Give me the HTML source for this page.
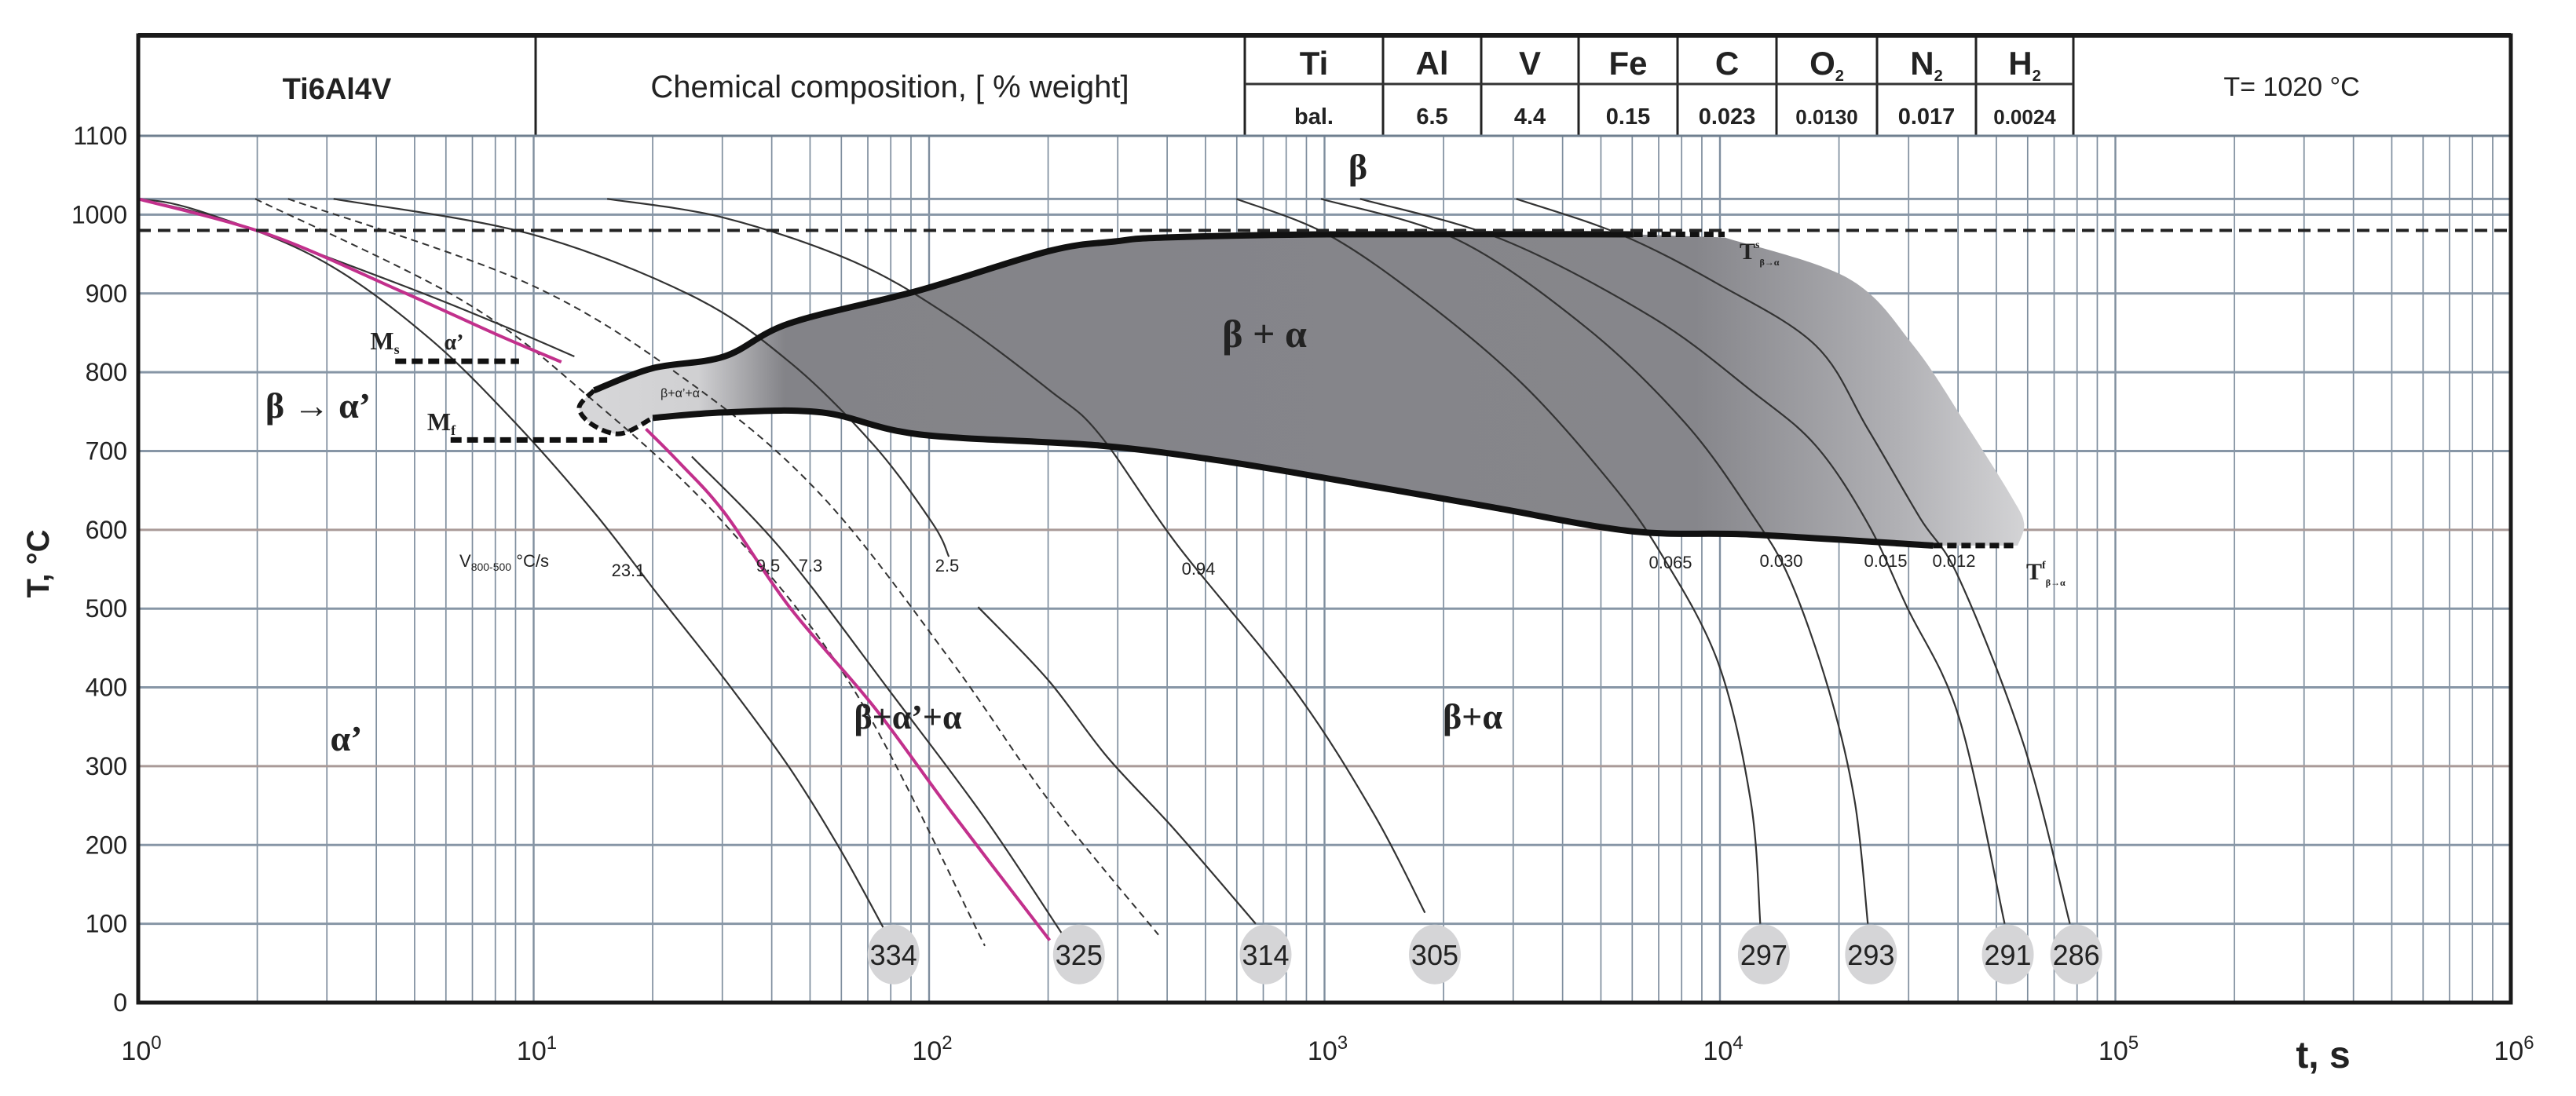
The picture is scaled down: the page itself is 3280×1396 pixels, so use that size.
<!DOCTYPE html>
<html><head><meta charset="utf-8"><style>
html,body{margin:0;padding:0;background:#fff}
svg{display:block}
text{font-family:"Liberation Sans",sans-serif;fill:#222}
.serif{font-family:"Liberation Serif",serif;font-weight:bold}
</style></head><body>
<svg id="chart" xmlns="http://www.w3.org/2000/svg" width="3280" height="1396" viewBox="0 0 3280 1396">
<defs>
<linearGradient id="regionGrad" gradientUnits="userSpaceOnUse" x1="760" y1="0" x2="2600" y2="0">
<stop offset="0" stop-color="#d6d6d8"/>
<stop offset="0.07" stop-color="#d0d0d2"/>
<stop offset="0.13" stop-color="#838388"/>
<stop offset="0.76" stop-color="#86868b"/>
<stop offset="0.90" stop-color="#b0b0b4"/>
<stop offset="1" stop-color="#d8d8da"/>
</linearGradient>
</defs>
<g id="grid"></g>
<g id="region"></g>
<g id="curves"></g>
<g id="labels"></g>
<g id="header"></g>
</svg>
<script>
// ---- data (log10 t [s], T [°C]) ----
const yTicks = [0,100,200,300,400,500,600,700,800,900,1000,1100];
const xDecades = [0,1,2,3,4,5,6];
const c334Lt = [0,0.247,0.494,0.741,0.955,1.153,1.317,1.482,1.647,1.778,1.894];
const c334T  = [1020,989,933,841,735,622,516,411,298,192,86];
const pinkALt = [0,0.329,0.659,0.906,1.070];
const pinkAT  = [1020,975,904,848,813];
const pinkBLt = [1.284,1.367,1.482,1.647,1.861,2.058,2.305];
const pinkBT  = [728,686,622,502,375,241,79];
const c73ALt = [0,0.165,0.659,0.922,1.103];
const c73AT  = [1020,1003,912,859,820];
const c73BLt = [1.400,1.630,1.910,2.141,2.338];
const c73BT  = [693,573,389,234,86];
const dashALt = [0.296,0.823,1.153,1.482,1.811,2.141];
const dashAT  = [1020,890,763,608,396,72];
const dashBLt = [0.379,0.988,1.400,1.729,2.058,2.305,2.58];
const dashBT  = [1020,912,785,643,432,255,86];
const c25ALt = [0.494,0.988,1.400,1.647,1.861,2.009,2.050];
const c25AT  = [1020,976,897,813,707,608,566];
const c25BLt = [2.124,2.30,2.45,2.62,2.826];
const c25BT  = [502,410,312,220,100];
const c094Lt = [1.186,1.482,1.811,2.058,2.305,2.431,2.629,2.925,3.123,3.254];
const c094T  = [1020,996,940,869,777,721,580,396,241,114];
const c065Lt = [2.777,3.007,3.254,3.501,3.715,3.847,3.995,4.078,4.102];
const c065T  = [1020,975,890,785,665,573,432,255,100];
const c030Lt = [2.991,3.337,3.666,3.913,4.078,4.176,4.275,4.341,4.374];
const c030T  = [1020,968,855,735,622,538,397,255,100];
const c015Lt = [3.090,3.452,3.831,4.078,4.242,4.374,4.473,4.605,4.720];
const c015T  = [1020,968,869,777,707,608,502,361,100];
const c012Lt = [3.485,3.748,3.995,4.242,4.374,4.506,4.605,4.769,4.885];
const c012T  = [1020,975,912,834,728,615,538,326,100];
const topLt = [1.153,1.30,1.482,1.647,1.976,2.305,2.470,2.596,3.007,3.781];
const topT  = [777,805,820,862,904,954,966,971,975,975];
const topDashLt = [3.781,4.012];
const topDashT  = [975,975];
const botLt = [1.301,1.482,1.729,1.976,2.431,2.76,3.09,3.42,3.781,4.078,4.539];
const botT  = [742,749,749,721,707,686,658,629,598,594,580];
const botDashLt = [4.539,4.753];
const botDashT  = [580,580];
const edgeLt = [4.012,4.325,4.489,4.621,4.736,4.769,4.753];
const edgeT  = [971,919,834,735,643,608,580];
const closeLt = [1.153,1.115,1.15,1.22,1.301];
const closeT  = [777,755,733,722,742];
const msLt = [0.650,0.963]; const msT = [814,814];
const mfLt = [0.790,1.186]; const mfT = [714,714];
const betaTransusT = 980;
const endLt = [1.910,2.379,2.851,3.279,4.111,4.382,4.728,4.901];
const endHv = ["334","325","314","305","297","293","291","286"];
const endT = 61;
const elements = ["Ti","Al","V","Fe","C","O","N","H"];
const elemSub = ["","","","","","2","2","2"];
const elemVals = ["bal.","6.5","4.4","0.15","0.023","0.0130","0.017","0.0024"];

// ---- axes ----
const X0=176, X1=3197, DEC=503.5, Y0=1277, YS=1.0036;
const xs = lt => X0 + lt*DEC;
const ys = T => Y0 - T*YS;
const NS="http://www.w3.org/2000/svg";
function mk(tag, attrs, parent){const e=document.createElementNS(NS,tag);for(const k in attrs)e.setAttribute(k,attrs[k]);parent.appendChild(e);return e;}
function smooth(lts,Ts){
  const p=lts.map((l,i)=>[xs(l),ys(Ts[i])]);
  let d=`M${p[0][0]},${p[0][1]}`;
  for(let i=0;i<p.length-1;i++){
    const a=p[i-1]||p[i], b=p[i], c=p[i+1], e=p[i+2]||c;
    const c1=[b[0]+(c[0]-a[0])/6,b[1]+(c[1]-a[1])/6], c2=[c[0]-(e[0]-b[0])/6,c[1]-(e[1]-b[1])/6];
    d+=` C${c1[0]},${c1[1]} ${c2[0]},${c2[1]} ${c[0]},${c[1]}`;
  }
  return d;
}
const grid=document.getElementById('grid');
for(let d=0;d<6;d++){for(let k=1;k<=9;k++){
  const lt=d+Math.log10(k);
  const ln=mk('line',{x1:xs(lt),x2:xs(lt),y1:ys(1100),y2:Y0,stroke:'#7f8e9e','stroke-width':k===1?2.4:1.7},grid);
  
  
}}
yTicks.forEach(T=>{
  const ln=mk('line',{x1:X0,x2:X1,y1:ys(T),y2:ys(T),stroke:(T===300||T===600)?'#a99a98':'#8796a6','stroke-width':3},grid);
  
  
  const t=mk('text',{x:162,y:ys(T)+11,'text-anchor':'end','font-size':32},grid);
  t.textContent=T;
  
  
});
{const ln=mk('line',{x1:X0,x2:X1,y1:ys(1020),y2:ys(1020),stroke:'#8796a6','stroke-width':3},grid);

}
xDecades.forEach(d=>{
  const t=mk('text',{x:xs(d)+4,y:1350,'text-anchor':'middle','font-size':34},grid);
  t.innerHTML='10<tspan dy="-14" font-size="24">'+d+'</tspan>';
  
  
});
// region
const reg=document.getElementById('region');
{
  const eP=smooth(edgeLt,edgeT).replace(/^M[^C]*/,'');
  const bRev=smooth(botLt.slice().reverse(),botT.slice().reverse()).replace(/^M[^C]*/,'');
  const cRev=smooth(closeLt.slice().reverse(),closeT.slice().reverse()).replace(/^M[^C]*/,'');
  const full=smooth(topLt,topT)+' L'+xs(edgeLt[0])+','+ys(edgeT[0])+eP+' L'+xs(botLt[botLt.length-1])+','+ys(botT[botT.length-1])+bRev+cRev+' Z';
  const p=mk('path',{d:full,fill:'url(#regionGrad)',stroke:'none'},reg);
  
  
}
// curves
const cg=document.getElementById('curves');
function curve(name,lt,T,opts){
  const p=mk('path',Object.assign({d:smooth(lt,T),fill:'none',stroke:'#333','stroke-width':2.2},opts||{}),cg);
  
  
  return p;
}
curve('curve-334',c334Lt,c334T);
curve('curve-7-3-upper',c73ALt,c73AT);
curve('curve-7-3-lower',c73BLt,c73BT);
curve('curve-dashed-a',dashALt,dashAT,{'stroke-dasharray':'9 6','stroke-width':2});
curve('curve-dashed-b',dashBLt,dashBT,{'stroke-dasharray':'9 6','stroke-width':2});
curve('curve-2-5-upper',c25ALt,c25AT);
curve('curve-2-5-lower',c25BLt,c25BT);
curve('curve-0-94',c094Lt,c094T);
curve('curve-0-065',c065Lt,c065T);
curve('curve-0-030',c030Lt,c030T);
curve('curve-0-015',c015Lt,c015T);
curve('curve-0-012',c012Lt,c012T);
curve('curve-325-pink-upper',pinkALt,pinkAT,{stroke:'#c2308c','stroke-width':4});
curve('curve-325-pink-lower',pinkBLt,pinkBT,{stroke:'#c2308c','stroke-width':4});
curve('transformation-start-line',topLt,topT,{stroke:'#111','stroke-width':8});
curve('transformation-end-line',botLt,botT,{stroke:'#111','stroke-width':8});
curve('start-line-dashed',topDashLt,topDashT,{stroke:'#111','stroke-width':7,'stroke-dasharray':'12 6'});
curve('end-line-dashed',botDashLt,botDashT,{stroke:'#111','stroke-width':7,'stroke-dasharray':'12 6'});
curve('region-closure-dashed',closeLt,closeT,{stroke:'#111','stroke-width':6,'stroke-dasharray':'12 6'});
curve('ms-line',msLt,msT,{stroke:'#111','stroke-width':7,'stroke-dasharray':'14 7'});
curve('mf-line',mfLt,mfT,{stroke:'#111','stroke-width':7,'stroke-dasharray':'14 7'});
{const l=mk('line',{x1:X0,x2:X1,y1:ys(betaTransusT),y2:ys(betaTransusT),stroke:'#222','stroke-width':4,'stroke-dasharray':'16 9'},cg);

}
endLt.forEach((lt,i)=>{
  const g=mk('g',{},cg);
  
  
  mk('ellipse',{cx:xs(lt),cy:ys(endT),rx:33,ry:38,fill:'#d5d5d7'},g);
  const t=mk('text',{x:xs(lt),y:ys(endT)+13,'text-anchor':'middle','font-size':36,fill:'#333'},g);
  t.textContent=endHv[i];
});
{const r=mk('rect',{x:X0,y:45,width:X1-X0,height:Y0-45,fill:'none',stroke:'#1a1a1a','stroke-width':5},cg);

}
// labels
const lg=document.getElementById('labels');
function lab(name,x,y,txt,size,cls,anchor){
  const t=mk('text',{x:x,y:y,'font-size':size,'text-anchor':anchor||'middle'},lg);
  if(cls)t.setAttribute('class',cls);
  t.innerHTML=txt;
  
  
  return t;
}
lab('ms-label',490,445,'M<tspan font-size="18" dy="6">s</tspan>',32,'serif');
lab('alpha-prime-small',578,445,'α’',28,'serif');
lab('beta-to-alpha-prime',405,532,'β → α’',46,'serif');
lab('mf-label',562,548,'M<tspan font-size="18" dy="6">f</tspan>',32,'serif');
lab('velocity-label',642,722,'V<tspan font-size="14" dy="5">800-500</tspan><tspan dy="-5"> °C/s</tspan>',22,'', 'middle');
lab('rate-23-1',800,734,'23.1',22);
lab('rate-9-5',978,728,'9.5',22);
lab('rate-7-3',1032,728,'7.3',22);
lab('rate-2-5',1206,728,'2.5',22);
lab('rate-0-94',1526,732,'0.94',22);
lab('rate-0-065',2127,724,'0.065',22);
lab('rate-0-030',2268,722,'0.030',22);
lab('rate-0-015',2401,722,'0.015',22);
lab('rate-0-012',2488,722,'0.012',22);
lab('alpha-prime-region',441,956,'α’',46,'serif');
lab('beta-alpha-prime-alpha-region',1156,928,'β+α’+α',44,'serif');
lab('small-beta-alpha-prime-alpha',866,506,'β+α’+α',16,'');
lab('beta-region',1729,228,'β',46,'serif');
lab('beta-alpha-shaded',1610,442,'β + α',50,'serif');
lab('beta-alpha-region',1875,928,'β+α',46,'serif');
lab('ts-label',2215,330,'T<tspan font-size="14" dy="-14">s</tspan><tspan font-size="12" dy="22">β→α</tspan>',30,'serif','start');
lab('tf-label',2580,738,'T<tspan font-size="14" dy="-14">f</tspan><tspan font-size="12" dy="22">β→α</tspan>',30,'serif','start');
{const t=mk('text',{x:0,y:0,'font-size':40,'font-weight':'bold','text-anchor':'middle',transform:'translate(62,718) rotate(-90)'},lg);
t.textContent='T, °C';

}
{const t=lab('x-axis-title',2958,1360,'t, s',48,'');t.setAttribute('font-weight','bold');}
// header table
const hg=document.getElementById('header');
mk('rect',{x:X0,y:45,width:X1-X0,height:ys(1100)-45,fill:'#fff',stroke:'none'},hg);
const divX=[682,1585,1761,1886,2010,2136,2262,2390,2516,2640];
divX.forEach(x=>{
  const l=mk('line',{x1:x,x2:x,y1:45,y2:ys(1100),stroke:'#222','stroke-width':3},hg);
  
  
});
mk('line',{x1:1585,x2:2640,y1:107,y2:107,stroke:'#333','stroke-width':3},hg);
mk('line',{x1:X0,x2:X1,y1:45,y2:45,stroke:'#1a1a1a','stroke-width':6},hg);
mk('line',{x1:X0,x2:X1,y1:ys(1100),y2:ys(1100),stroke:'#6f7f8f','stroke-width':3},hg);
mk('line',{x1:X0,x2:X0,y1:45,y2:Y0,stroke:'#1a1a1a','stroke-width':5},hg);
mk('line',{x1:X1,x2:X1,y1:45,y2:Y0,stroke:'#1a1a1a','stroke-width':5},hg);
{const t=mk('text',{x:429,y:126,'text-anchor':'middle','font-size':38,'font-weight':'bold'},hg);t.textContent='Ti6Al4V';
}
{const t=mk('text',{x:1133,y:124,'text-anchor':'middle','font-size':40},hg);t.textContent='Chemical composition, [ % weight]';
}
{const t=mk('text',{x:2918,y:122,'text-anchor':'middle','font-size':34},hg);t.textContent='T= 1020 °C';
}
const colL=[1585,1761,1886,2010,2136,2262,2390,2516], colR=[1761,1886,2010,2136,2262,2390,2516,2640];
elements.forEach((el,i)=>{
  const cx=(colL[i]+colR[i])/2;
  const t=mk('text',{x:cx,y:95,'text-anchor':'middle','font-size':42,'font-weight':'bold'},hg);
  t.innerHTML=el+(elemSub[i]?'<tspan font-size="20" dy="8">'+elemSub[i]+'</tspan>':'');
  
  
  const v=mk('text',{x:cx,y:158,'text-anchor':'middle','font-size':elemVals[i].length>5?26:29,'font-weight':'bold'},hg);
  v.textContent=elemVals[i];
  
  
});
</script>
</body></html>
